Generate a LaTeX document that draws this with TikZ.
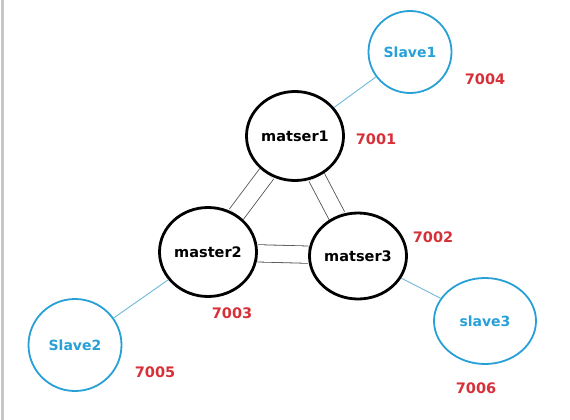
\documentclass[tikz,border=0pt]{standalone}
\usepackage{fontspec}
\setmainfont{DejaVu Sans}
\usetikzlibrary{shapes.geometric,backgrounds}
\definecolor{slaveblue}{RGB}{38,160,214}
\definecolor{linkblue}{RGB}{110,185,215}
\definecolor{portred}{RGB}{214,48,56}

\begin{document}
\begin{tikzpicture}[x=1pt,y=-1pt,
  master/.style={ellipse,draw,line width=2.8pt,inner sep=0pt,
    font=\fontsize{14.5}{17}\selectfont\bfseries},
  slave/.style={ellipse,draw=slaveblue,line width=1.8pt,inner sep=0pt,
    text=slaveblue,font=\fontsize{14}{17}\selectfont\bfseries},
  port/.style={text=portred,font=\fontsize{14.5}{17}\selectfont\bfseries},
  dbl/.style={double,double distance=16.5pt,line width=0.8pt,draw=black!70},
  tie/.style={linkblue,line width=0.9pt}]
  \useasboundingbox (0,0) rectangle (570,420);
  \draw[black!22,line width=3pt] (2,0) -- (2,420);

  % masters
  \node[master,minimum width=97pt,minimum height=89pt] (m1) at (295,136) {matser1};
  \node[master,minimum width=97pt,minimum height=89pt] (m2) at (208,252) {master2};
  \node[master,minimum width=97pt,minimum height=86pt] (m3) at (358,256) {matser3};

  % slaves
  \node[slave,minimum width=83pt,minimum height=82pt] (s1) at (410,52) {Slave1};
  \node[slave,minimum width=93pt,minimum height=92pt] (s2) at (75,345) {Slave2};
  \node[slave,minimum width=102pt,minimum height=86pt] (s3) at (485,321) {slave3};

  % ports
  \node[port] (p1) at (376,139) {7001};
  \node[port] (p2) at (433,237) {7002};
  \node[port] (p3) at (232,313) {7003};
  \node[port] (p4) at (485,79) {7004};
  \node[port] (p5) at (155,372) {7005};
  \node[port] (p6) at (476,388) {7006};

  \begin{scope}[on background layer]
    \draw[dbl] (m1) -- (m2);
    \draw[dbl] (m1) -- (m3);
    \draw[dbl] (m2) -- (m3);
  \end{scope}
  \draw[tie] (m1) -- (s1);
  \draw[tie] (m2) -- (s2);
  \draw[tie] (m3) -- (s3);
\end{tikzpicture}
\end{document}
